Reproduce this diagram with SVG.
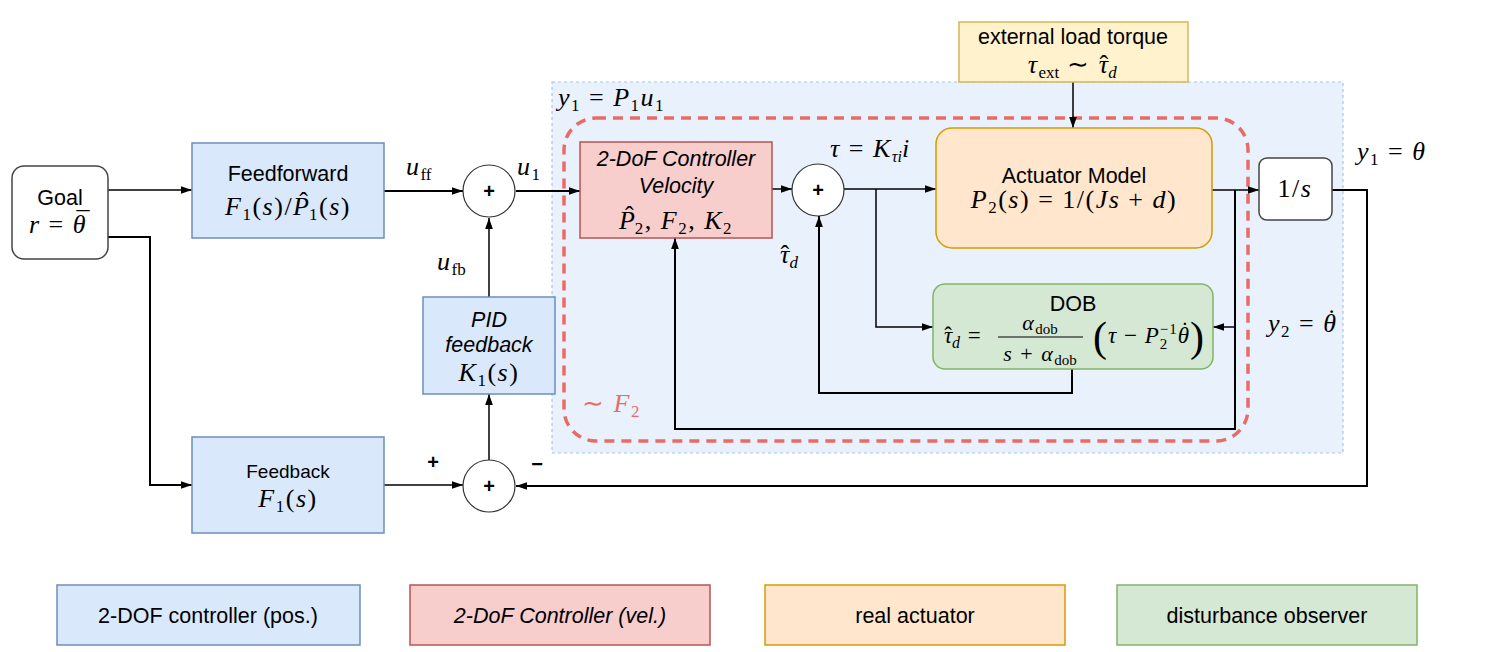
<svg xmlns="http://www.w3.org/2000/svg" width="1485" height="652" viewBox="0 0 1485 652">
<defs>
<style>
.s{font-family:"Liberation Sans",Arial,sans-serif;fill:#000;text-anchor:middle;font-size:21.5px}
.m{font-family:"Liberation Serif","Times New Roman",serif;font-style:italic;fill:#000;font-size:26px;letter-spacing:1.5px}
.n{font-style:normal}
.c{text-anchor:middle}
.t{letter-spacing:0}
.w{fill:none;stroke:#000;stroke-width:1.5}
.w2{fill:none;stroke:#000;stroke-width:2}
.sum{fill:#fff;stroke:#333;stroke-width:1.2}
.blue{fill:#dae8fc;stroke:#6c8ebf;stroke-width:1.5}
.red{fill:#f8cecc;stroke:#b85450;stroke-width:1.5}
.org{fill:#ffe6cc;stroke:#d79b00;stroke-width:1.5}
.grn{fill:#d5e8d4;stroke:#82b366;stroke-width:1.5}
.yel{fill:#fff2cc;stroke:#d6b656;stroke-width:1.5}
.plain{fill:#fff;stroke:#444;stroke-width:1.5}
.plus{font-family:"Liberation Sans",Arial,sans-serif;font-weight:bold;font-size:20px;text-anchor:middle}
</style>
<marker id="arr" viewBox="0 0 10 10" refX="10" refY="5" markerWidth="11" markerHeight="11" markerUnits="userSpaceOnUse" orient="auto">
<path d="M0,1.5 L10,5 L0,8.5 z" fill="#000"/>
</marker>
</defs>

<g id="region-P1">
<rect x="552" y="82" width="791" height="371" fill="#dae8fc" fill-opacity="0.6" stroke="#a9c4eb" stroke-width="1.2" stroke-dasharray="3,3"/>
<text class="m" x="558" y="106">y<tspan class="n" font-size="17" dy="5">1</tspan><tspan class="n" dy="-5"> = </tspan>P<tspan class="n" font-size="17" dy="5">1</tspan><tspan dy="-5">u</tspan><tspan class="n" font-size="17" dy="5">1</tspan></text>
</g>
<g id="region-F2">
<rect x="564" y="118" width="684" height="323" rx="32" fill="none" stroke="#ea6b66" stroke-width="3.5" stroke-dasharray="10,7"/>
<text class="m" x="582" y="412" style="fill:#ea6b66"><tspan class="n">∼ </tspan>F<tspan class="n" font-size="17" dy="5">2</tspan></text>
</g>

<g id="connectors">
<path class="w" d="M108,190 H192" marker-end="url(#arr)"/>
<path class="w2" d="M108,237 H150 V485 H192" marker-end="url(#arr)"/>
<path class="w2" d="M384,191 H463" marker-end="url(#arr)"/>
<path class="w2" d="M516,191 H580" marker-end="url(#arr)"/>
<path class="w" d="M489,297 V218" marker-end="url(#arr)"/>
<path class="w" d="M489,460 V394" marker-end="url(#arr)"/>
<path class="w" d="M384,485 H463" marker-end="url(#arr)"/>
<path class="w2" d="M1332,190 H1367 V486 H516" marker-end="url(#arr)"/>
<path class="w" d="M772,189 H792" marker-end="url(#arr)"/>
<path class="w" d="M844,189 H936" marker-end="url(#arr)"/>
<path class="w" d="M876,189 V327 H933" marker-end="url(#arr)"/>
<path class="w" d="M1212,190 H1259" marker-end="url(#arr)"/>
<path class="w2" d="M1235,190 V429 H675 V238" marker-end="url(#arr)"/>
<path class="w" d="M1235,327 H1213" marker-end="url(#arr)"/>
<path class="w2" d="M1072,369 V393 H819 V216" marker-end="url(#arr)"/>
<path class="w" d="M1073,82 V128" marker-end="url(#arr)"/>
<text class="m" x="406" y="175">u<tspan class="n t" font-size="17" dy="5">ff</tspan></text>
<text class="m" x="517" y="175">u<tspan class="n" font-size="17" dy="5">1</tspan></text>
<text class="m" x="437" y="270">u<tspan class="n t" font-size="17" dy="5">fb</tspan></text>
<text class="m" x="830" y="157">τ<tspan class="n"> = </tspan>K<tspan class="t" font-size="16" dy="5">τi</tspan><tspan dy="-5">i</tspan></text>
<text class="m" x="780" y="263">τ<tspan class="n" dx="-10.2">ˆ</tspan><tspan font-size="17" dx="-1.4" dy="5">d</tspan></text>
<text class="m" x="1357" y="160">y<tspan class="n" font-size="17" dy="5">1</tspan><tspan class="n" dy="-5"> = </tspan>θ</text>
<text class="m" x="1268" y="332">y<tspan class="n" font-size="17" dy="5">2</tspan><tspan class="n" dy="-5"> = </tspan>θ<tspan class="n" dx="-10.2" dy="-5">˙</tspan></text>
<text class="plus" x="433" y="469">+</text>
<text class="plus" x="537" y="471">−</text>
</g>

<g id="goal">
<rect class="plain" x="12" y="166" width="96" height="93" rx="12"/>
<text class="s" x="60" y="205">Goal</text>
<text class="m c" x="60" y="233">r<tspan class="n"> = </tspan>θ<tspan class="n" dx="-10.4" dy="-4">¯</tspan></text>
</g>

<g id="feedforward">
<rect class="blue" x="192" y="143" width="192" height="95"/>
<text class="s" x="288" y="181">Feedforward</text>
<text class="m c" x="288" y="215">F<tspan class="n" font-size="17" dy="5">1</tspan><tspan class="n" dy="-5">(</tspan>s<tspan class="n">)/</tspan>P<tspan class="n" dx="-11.3" dy="-5">ˆ</tspan><tspan class="n" font-size="17" dx="-0.4" dy="10">1</tspan><tspan class="n" dy="-5">(</tspan>s<tspan class="n">)</tspan></text>
</g>

<g id="feedback">
<rect class="blue" x="192" y="437" width="192" height="96"/>
<text class="s" x="288" y="478" style="font-size:19px">Feedback</text>
<text class="m c" x="288" y="507">F<tspan class="n" font-size="17" dy="5">1</tspan><tspan class="n" dy="-5">(</tspan>s<tspan class="n">)</tspan></text>
</g>

<g id="sum-top">
<circle class="sum" cx="489" cy="191" r="26"/>
<text class="plus" x="489" y="198">+</text>
</g>

<g id="sum-bottom">
<circle class="sum" cx="489" cy="486" r="26"/>
<text class="plus" x="489" y="493">+</text>
</g>

<g id="pid">
<rect class="blue" x="423" y="297" width="132" height="97"/>
<text class="s" x="489" y="327" font-style="italic">PID</text>
<text class="s" x="489" y="352" font-style="italic">feedback</text>
<text class="m c" x="489" y="381">K<tspan class="n" font-size="17" dy="5">1</tspan><tspan class="n" dy="-5">(</tspan>s<tspan class="n">)</tspan></text>
</g>

<g id="controller-vel">
<rect class="red" x="580" y="142" width="192" height="96"/>
<text class="s" x="676" y="166" font-style="italic">2-DoF Controller</text>
<text class="s" x="676" y="193" font-style="italic">Velocity</text>
<text class="m c" x="676" y="229">P<tspan class="n" dx="-11.3" dy="-5">ˆ</tspan><tspan class="n" font-size="17" dx="-0.4" dy="10">2</tspan><tspan class="n" dy="-5">, </tspan>F<tspan class="n" font-size="17" dy="5">2</tspan><tspan class="n" dy="-5">, </tspan>K<tspan class="n" font-size="17" dy="5">2</tspan></text>
</g>

<g id="sum-tau">
<circle class="sum" cx="818" cy="190" r="26"/>
<text class="plus" x="818" y="197">+</text>
</g>

<g id="external-load">
<rect class="yel" x="959" y="22" width="229" height="60"/>
<text class="s" x="1073" y="44">external load torque</text>
<text class="m c" x="1073" y="73">τ<tspan class="n t" font-size="17" dy="5">ext</tspan><tspan class="n" dy="-5"> ∼ </tspan>τ<tspan class="n" dx="-10.2">ˆ</tspan><tspan font-size="17" dx="-1.4" dy="5">d</tspan></text>
</g>

<g id="actuator">
<rect class="org" x="936" y="128" width="276" height="120" rx="16"/>
<text class="s" x="1074" y="183">Actuator Model</text>
<text class="m c" x="1074" y="208">P<tspan class="n" font-size="17" dy="5">2</tspan><tspan class="n" dy="-5">(</tspan>s<tspan class="n">) = 1/(</tspan>Js<tspan class="n"> + </tspan>d<tspan class="n">)</tspan></text>
</g>

<g id="integrator">
<rect class="plain" x="1259" y="158" width="73" height="62" rx="8"/>
<text class="m c" x="1295" y="197"><tspan class="n">1/</tspan>s</text>
</g>

<g id="dob">
<rect class="grn" x="933" y="284" width="280" height="85" rx="12"/>
<text class="s" x="1073" y="311">DOB</text>
<text class="m" x="944" y="343" style="font-size:23px;letter-spacing:1px">τ<tspan class="n" dx="-9">ˆ</tspan><tspan font-size="16" dx="-1" dy="5">d</tspan><tspan class="n" dy="-5"> =</tspan></text>
<text class="m c" x="1040" y="330" style="font-size:22px">α<tspan class="n t" font-size="15" dy="4">dob</tspan></text>
<line x1="998" y1="337" x2="1083" y2="337" stroke="#000" stroke-width="1.2"/>
<text class="m c" x="1040" y="361" style="font-size:22px">s<tspan class="n"> + </tspan>α<tspan class="n t" font-size="15" dy="4">dob</tspan></text>
<text class="m n" x="1093" y="351" style="font-size:42px;letter-spacing:0">(</text>
<text class="m" x="1108" y="343" style="font-size:23px;letter-spacing:1px">τ<tspan class="n"> − </tspan>P<tspan class="n" font-size="15" dy="6">2</tspan><tspan class="n" font-size="15" dx="-8.5" dy="-15">−1</tspan><tspan dy="9">θ</tspan><tspan class="n" dx="-9" dy="-5">˙</tspan></text>
<text class="m n" x="1190" y="351" style="font-size:42px;letter-spacing:0">)</text>
</g>

<g id="legend">
<g id="legend-pos">
<rect class="blue" x="57" y="585" width="303" height="60"/>
<text class="s" x="208" y="623">2-DOF controller (pos.)</text>
</g>
<g id="legend-vel">
<rect class="red" x="410" y="585" width="300" height="60"/>
<text class="s" x="560" y="623" font-style="italic">2-DoF Controller (vel.)</text>
</g>
<g id="legend-act">
<rect class="org" x="765" y="585" width="300" height="60"/>
<text class="s" x="915" y="623">real actuator</text>
</g>
<g id="legend-dob">
<rect class="grn" x="1117" y="585" width="300" height="60"/>
<text class="s" x="1267" y="623">disturbance observer</text>
</g>
</g>
</svg>
